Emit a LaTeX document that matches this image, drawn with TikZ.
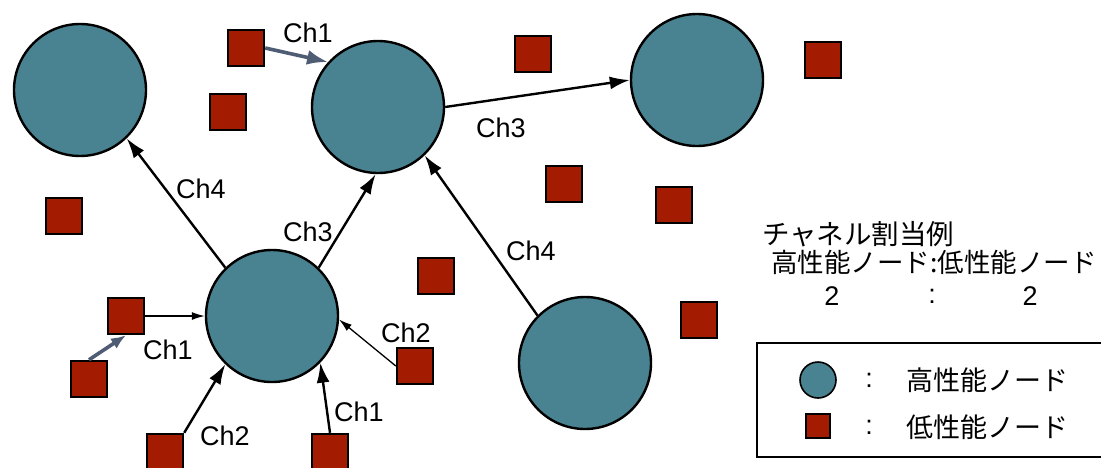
\documentclass[tikz,border=0pt]{standalone}
\usepackage{fontspec}
\setmainfont{Liberation Sans}
\newfontfamily\jpfont{Noto Sans CJK JP}
\usetikzlibrary{arrows.meta}

\definecolor{hnode}{RGB}{73,130,144}
\definecolor{lnode}{RGB}{163,27,0}
\definecolor{chgray}{RGB}{78,93,116}

\begin{document}
\begin{tikzpicture}[x=1pt, y=-1pt,
    every node/.style={font=\fontsize{27}{32}\selectfont, inner sep=0pt},
    high/.style={circle, draw=black, line width=2.4pt, fill=hnode, minimum size=132pt},
    low/.style={rectangle, draw=black, line width=2.4pt, fill=lnode, minimum size=36pt},
    ch/.style={-{Latex[length=20pt,width=13pt]}, line width=2.4pt},
    chthin/.style={-{Latex[length=13pt,width=8pt]}, line width=1.3pt},
    chfar/.style={-{Latex[length=21pt,width=15pt]}, line width=3.6pt, chgray},
  ]
  \useasboundingbox (0,0) rectangle (1101,467);
  \clip (0,0) rectangle (1101,467);

  % high performance nodes
  \node[high] (A) at (80,90) {};
  \node[high] (B) at (378,107) {};
  \node[high] (C) at (697,80) {};
  \node[high] (D) at (272,316) {};
  \node[high] (E) at (585,363) {};

  % low performance nodes
  \node[low] (s1) at (246,48) {};
  \node[low] (s2) at (228,112) {};
  \node[low] (s3) at (64,216) {};
  \node[low] (s4) at (533,54) {};
  \node[low] (s5) at (823,60) {};
  \node[low] (s6) at (564,184) {};
  \node[low] (s7) at (674,205) {};
  \node[low] (s8) at (436,276) {};
  \node[low] (s9) at (699,320) {};
  \node[low] (s10) at (126,316) {};
  \node[low] (s11) at (89,379) {};
  \node[low] (s12) at (415,366) {};
  \node[low] (s13) at (165,452) {};
  \node[low] (s14) at (330,452) {};

  % channels
  \draw[chfar] (s1.east) -- (B.138);
  \draw[ch] (B.east) -- (C.west);
  \draw[ch] (D.134) -- (A.-46);
  \draw[ch] (D.46) -- (B.-92);
  \draw[ch] (E.135) -- (B.-46);
  \draw[chthin] (s10.east) -- (D.west);
  \draw[chfar, -{Latex[length=15pt,width=12pt]}] (s11.north) -- (s10.south);
  \draw[chthin] (s12.west) -- (D.-3);
  \draw[ch] (s13.north east) -- (D.226);
  \draw[ch] (s14.north) -- (D.-44);

  % channel labels
  \node (l1) at (308,33) {Ch1};
  \node (l2) at (501,128) {Ch3};
  \node (l3) at (201,189) {Ch4};
  \node (l4) at (308,232) {Ch3};
  \node (l5) at (531,251) {Ch4};
  \node (l6) at (168,350) {Ch1};
  \node (l7) at (406,333) {Ch2};
  \node (l8) at (225,436) {Ch2};
  \node (l9) at (359,412) {Ch1};

  % allocation ratio
  \node[anchor=west, font=\fontsize{27.5}{32}\selectfont] (title) at (762,234) {\jpfont チャネル割当例};
  \node[anchor=west, font=\fontsize{26.5}{32}\selectfont] (ratio) at (771,262)
    {\jpfont 高性能ノード:低性能ノード};
  \node (n1) at (832,296) {2};
  \node (nc) at (932,296) {:};
  \node (n2) at (1030,296) {2};

  % legend
  \draw[line width=2.4pt] (1110,343) -- (757,343) -- (757,457) -- (1110,457);
  \node[high, minimum size=36pt, line width=1.6pt] (kh) at (818,380) {};
  \node[low, minimum size=24pt, line width=2pt] (kl) at (818,426) {};
  \node (c1) at (869,380) {:};
  \node (c2) at (869,427) {:};
  \node[anchor=west] (kht) at (906,380) {\jpfont 高性能ノード};
  \node[anchor=west] (klt) at (906,427) {\jpfont 低性能ノード};
\end{tikzpicture}
\end{document}
